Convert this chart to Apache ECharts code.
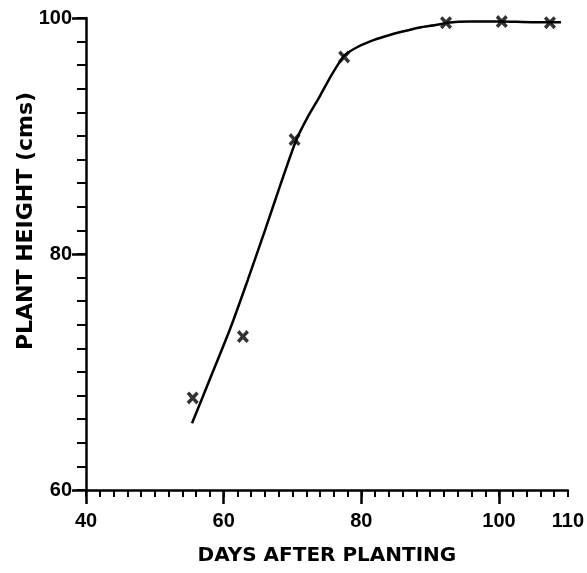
<!DOCTYPE html>
<html>
<head>
<meta charset="utf-8">
<script src="https://cdn.jsdelivr.net/npm/echarts@6/dist/echarts.min.js"></script>
<style>html,body{margin:0;padding:0;background:#fff}#c{width:587px;height:573px}</style>
</head>
<body>
<div id="c"></div>
<script>
// Observed data points (x markers)
var obsDays = [55.5, 62.8, 70.3, 77.5, 92.3, 100.4, 107.4];
var obsHeight = [67.8, 73.0, 89.7, 96.7, 99.6, 99.7, 99.6];
// Fitted curve
var fitDays = [55.4, 58.0, 60.9, 63.5, 66.0, 68.2, 70.5, 72.2, 73.9, 75.7, 77.5, 79.3, 81.2, 83.5, 86.0, 88.5, 90.8, 92.5, 95.7, 100.4, 104.8, 109.0];
var fitHeight = [65.65, 69.4, 73.6, 77.8, 82.0, 85.8, 89.6, 91.6, 93.3, 95.2, 96.8, 97.5, 98.0, 98.45, 98.85, 99.2, 99.4, 99.6, 99.7, 99.7, 99.65, 99.65];
// Tick labels
var xTickLabels = [40, 60, 80, 100, 110];
var xMajorTicks = [40, 60, 80, 100];
var yTickLabels = [60, 80, 100];
var xTitle = 'DAYS AFTER PLANTING';
var yTitle = 'PLANT HEIGHT (cms)';

function pairs(a, b) { return a.map(function (v, i) { return [v, b[i]]; }); }

var NUMFONT = 'Liberation Sans';
var TFONT = 'DejaVu Sans';
var chart = echarts.init(document.getElementById('c'), null, { renderer: 'canvas' });
var xMark = 'path://M0,2 L2,0 L5,3 L8,0 L10,2 L7,5 L10,8 L8,10 L5,7 L2,10 L0,8 L3,5 Z';

chart.setOption({
  animation: false,
  backgroundColor: '#fff',
  grid: { left: 86, right: 18, top: 18, bottom: 83, containLabel: false },
  xAxis: [{
    type: 'value', min: 40, max: 110, interval: 2,
    axisLine: { show: true, lineStyle: { color: '#000', width: 2.5 } },
    axisTick: { show: true, length: 7, lineStyle: { color: '#000', width: 2 } },
    splitLine: { show: false },
    axisLabel: { customValues: xTickLabels, margin: 21, color: '#000', fontFamily: NUMFONT, fontWeight: 'bold', fontSize: 20 },
    name: xTitle, nameLocation: 'middle', nameGap: 56,
    nameTextStyle: { color: '#000', fontFamily: TFONT, fontWeight: 'bold', fontSize: 20 }
  }, {
    type: 'value', min: 40, max: 110, position: 'bottom',
    axisLine: { show: false },
    axisTick: { show: true, customValues: xMajorTicks, length: 14, lineStyle: { color: '#000', width: 2.5 } },
    axisLabel: { show: false }, splitLine: { show: false }
  }],
  yAxis: [{
    type: 'value', min: 60, max: 100, interval: 2,
    axisLine: { show: true, lineStyle: { color: '#000', width: 2.5 } },
    axisTick: { show: true, length: 9, lineStyle: { color: '#000', width: 2 } },
    splitLine: { show: false },
    axisLabel: { customValues: yTickLabels, margin: 14, color: '#000', fontFamily: NUMFONT, fontWeight: 'bold', fontSize: 20 }
  }, {
    type: 'value', min: 60, max: 100, position: 'left',
    axisLine: { show: false },
    axisTick: { show: true, customValues: yTickLabels, length: 14, lineStyle: { color: '#000', width: 2.5 } },
    axisLabel: { show: false }, splitLine: { show: false }
  }],
  graphic: [{
    type: 'text', x: 26, y: 221, rotation: Math.PI / 2,
    style: { text: yTitle, fill: '#000', font: 'bold 22px "DejaVu Sans"', align: 'center', verticalAlign: 'middle' }
  }],
  series: [{
    type: 'line', data: pairs(fitDays, fitHeight), smooth: 0.2, showSymbol: false,
    lineStyle: { color: '#000', width: 2.5 }, z: 2
  }, {
    type: 'scatter', data: pairs(obsDays, obsHeight), symbol: xMark, symbolSize: [12, 13],
    itemStyle: { color: '#000' }, z: 3
  }]
});
</script>
</body>
</html>
